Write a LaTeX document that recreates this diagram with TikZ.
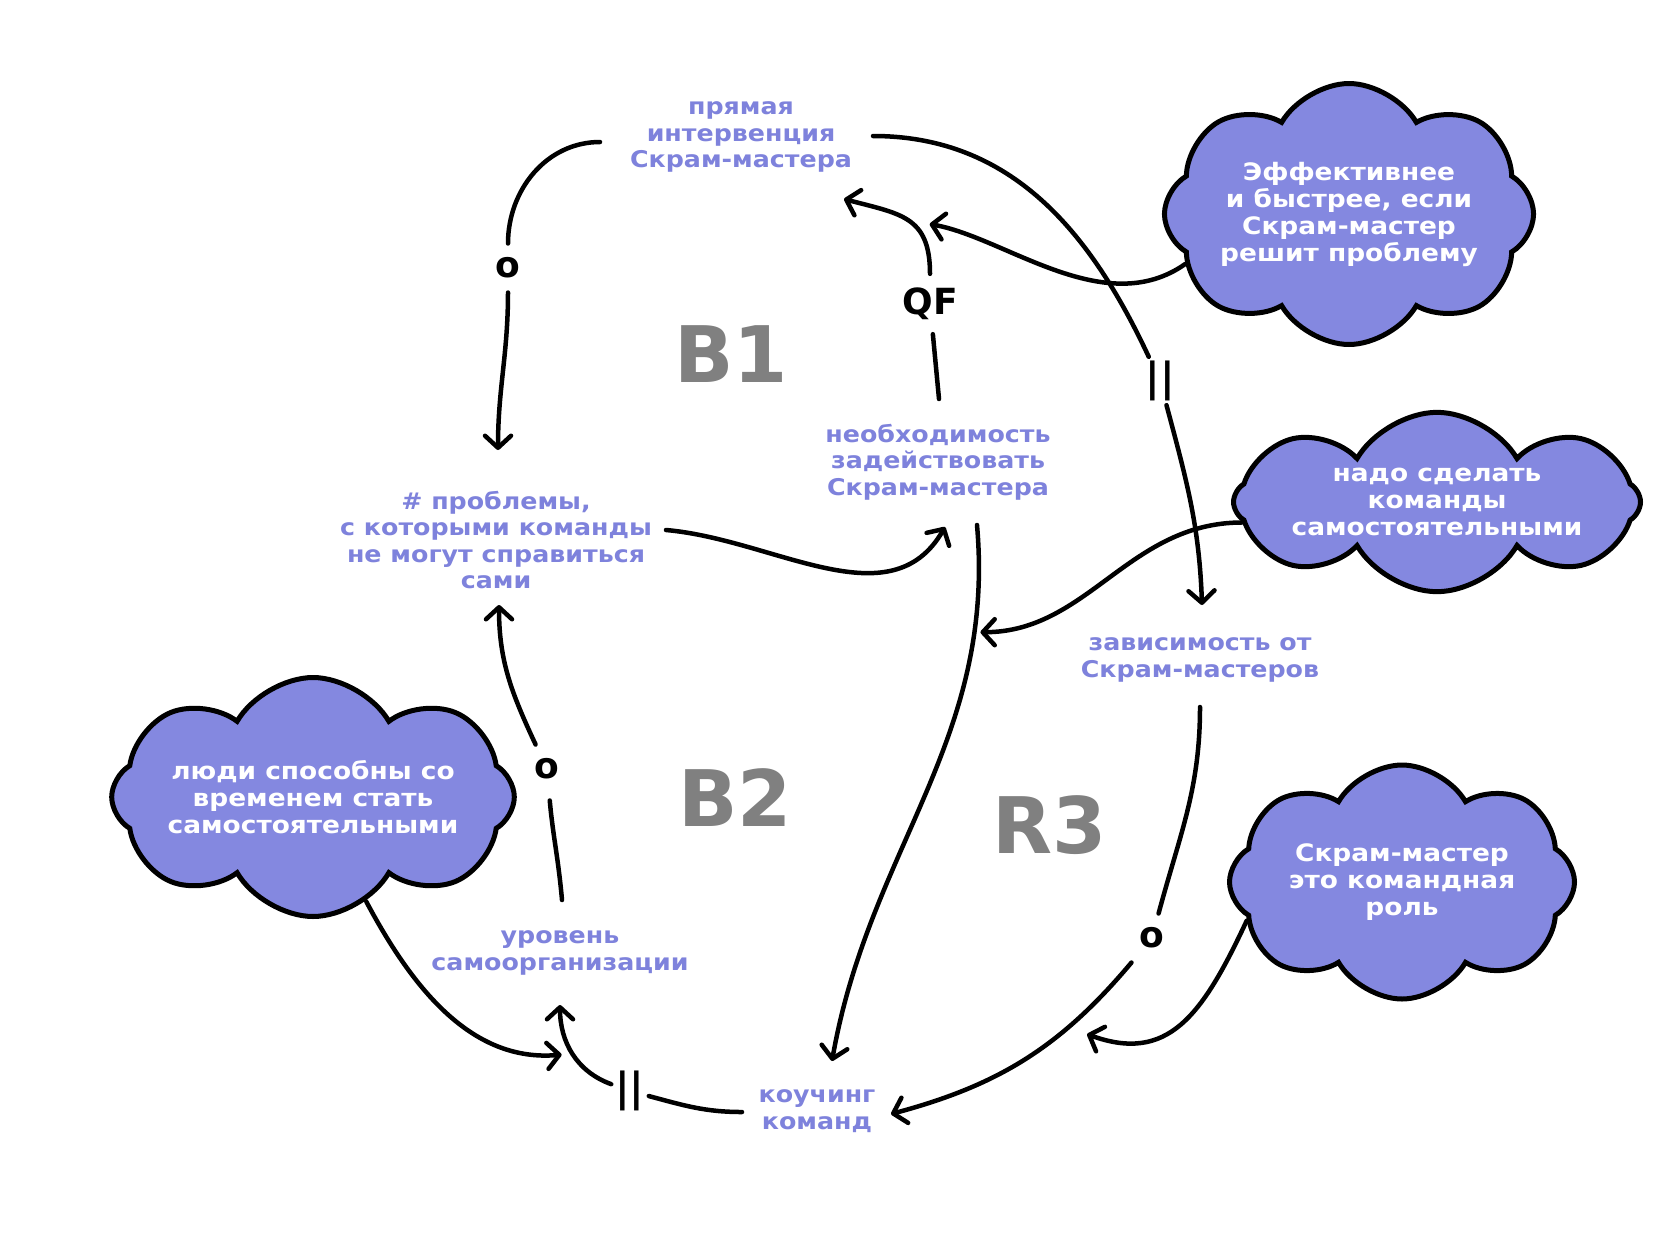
\documentclass[tikz,border=0pt]{standalone}
\usepackage{fontspec}
\setmainfont{DejaVu Sans}
\newfontfamily\varfont{DejaVu Sans}[FakeStretch=1.1]
\usetikzlibrary{arrows.meta,calc,shapes.symbols}

\definecolor{lila}{HTML}{7E82DC}
\definecolor{wolke}{HTML}{8488E0}
\definecolor{schleife}{HTML}{808080}

\pgfdeclarelayer{back}
\pgfsetlayers{back,main}

\begin{document}
\begin{tikzpicture}[x=1pt,y=-1pt,>={Straight Barb[length=12pt,width=26pt,round]},
	var/.style={text=lila,align=center,inner sep=0pt,font=\varfont\bfseries\fontsize{23}{26.5}\selectfont},
	belief/.style={cloud,cloud puffs=8,cloud puff arc=120,cloud ignores aspect,draw,line width=5pt,
		fill=wolke,text=white,align=center,inner sep=0pt,font=\varfont\bfseries\fontsize{24}{27}\selectfont},
	loopname/.style={text=schleife,font=\bfseries\fontsize{78}{78}\selectfont},
	pol/.style={inner sep=14pt,font=\bfseries\fontsize{36}{36}\selectfont},
	delay/.style={inner sep=4pt,font=\bfseries\fontsize{40}{40}\selectfont},
	conn/.style={line width=4.5pt,line cap=round}]

\useasboundingbox (0,0) rectangle (1680,1256);

%
% Variablen
%
\node[var] (intv) at (741,137) {прямая\\интервенция\\Скрам-мастера};
\node[var] (prob) at (496,540) {\# проблемы,\\с которыми команды\\не могут справиться\\сами};
\node[var] (need) at (938,462) {необходимость\\задействовать\\Скрам-мастера};
\node[var] (dep) at (1200,660) {зависимость от\\Скрам-мастеров};
\node[var] (self) at (560,953) {уровень\\самоорганизации};
\node[var] (coach) at (817,1111) {коучинг\\команд};

\node[loopname] (b1) at (731,354) {B1};
\node[loopname] (b2) at (735,798) {B2};
\node[loopname] (r3) at (1050,825) {R3};

\node[pol] (m1) at (508,268) {o};
\node[pol] (qf) at (930,304) {QF};
\node[delay] (d1) at (1160,381) {||};
\node[pol] (m2) at (547,769) {o};
\node[pol] (m3) at (1152,938) {o};
\node[delay] (d2) at (630,1091) {||};

%
% Wolken
%
\node[belief,minimum width=362,minimum height=261] (cA) at (1349,214)
	{Эффективнее\\и быстрее, если\\Скрам-мастер\\решит проблему};
\node[belief,minimum width=407,minimum height=179] (cB) at (1437,502)
	{надо сделать\\команды\\самостоятельными};
\node[belief,minimum width=402,minimum height=239] (cC) at (313,797)
	{люди способны со\\временем стать\\самостоятельными};
\node[belief,minimum width=345,minimum height=234] (cD) at (1402,882)
	{Скрам-мастер\\это командная\\роль};

\begin{pgfonlayer}{back}
\fill[white] (0,0) rectangle (1680,1256);

%
% B1
%
\draw[conn] ($(intv)+(-141,5)$) to[out=180,in=90] (m1);
\draw[conn,->] (m1) to[out=-90,in=90] ($(prob)+(2,-90)$);
\draw[conn] ($(need)+(1,-63)$) -- (qf);
\draw[conn,->] (qf) to[out=90,in=-15,looseness=1.3] coordinate[pos=0.5] (qfhit) ($(intv)+(103,62)$);
\draw[conn,->,shorten >=22pt] (cA.197) to[out=215,in=-10,looseness=0.9] (qfhit);
\draw[conn,->] ($(prob)+(170,-10)$) to[out=-5,in=-120] ($(need)+(7,65)$);

%
% R3 und B2
%
\draw[conn] ($(intv)+(132,-1)$) to[out=0,in=115] (d1);
\draw[conn,->] (d1) to[out=-75,in=92] ($(dep)+(2,-55)$);
\draw[conn,->] ($(need)+(39,63)$) to[out=-85,in=80] coordinate[pos=0.18] (c6hit) ($(coach)+(15,-50)$);
\draw[conn,->,shorten >=6pt] (cB.186) to[out=180,in=0] (c6hit);
\draw[conn] ($(dep)+(0,47)$) to[out=-90,in=75] (m3);
\draw[conn,->] (m3) to[out=-130,in=15] coordinate[pos=0.3] (c8hit) ($(coach)+(74,3)$);
\draw[conn,->,shorten >=20pt] (cD.194) to[out=-115,in=-20,looseness=1.3] (c8hit);
\draw[conn] ($(coach)+(-75,1)$) to[out=180,in=-15] (d2);
\draw[conn,->] (d2) to[out=160,in=-90] coordinate[pos=0.5] (c10hit) ($(self)+(0,52)$);
\draw[conn,->,shorten >=11pt] (cC.-63) to[out=-62,in=185] (c10hit);
\draw[conn,shorten >=7pt] ($(self)+(2,-53)$) to[out=95,in=-85] (m2);
\draw[conn,->] (m2) to[out=115,in=-90] ($(prob)+(3,65)$);
\end{pgfonlayer}

\end{tikzpicture}
\end{document}
